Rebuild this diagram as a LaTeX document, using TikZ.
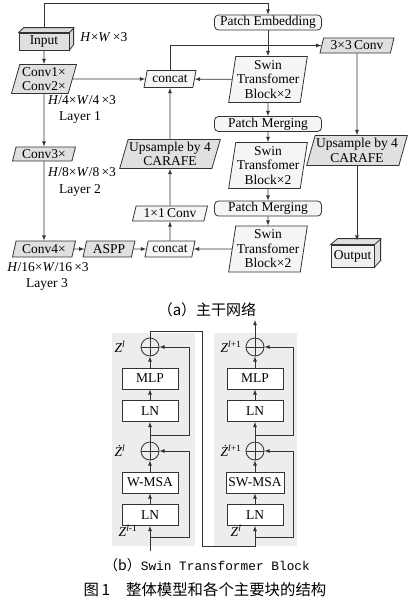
\documentclass[tikz,border=0pt]{standalone}
\usepackage{fontspec}
\setmainfont{Liberation Serif}
\newfontfamily\cjk{Noto Sans CJK SC}
\newfontfamily\mono{Liberation Mono}
\usetikzlibrary{arrows,positioning,shapes}
\tikzstyle{base}=[draw=black!80,line width=0.8pt,font=\fontsize{13.5}{14.5}\selectfont,
  align=center,inner sep=1pt]
\tikzstyle{para}=[base,trapezium,trapezium left angle=72,trapezium right angle=108,
  trapezium stretches body]

\begin{document}
\begin{tikzpicture}[x=1pt,y=-1pt,>=latex,line width=0.8pt,draw=black!80]
  \tikzstyle{conv}=[para,fill=black!12]
  \tikzstyle{lite}=[para,fill=black!4]
  \tikzstyle{swin}=[para,fill=black!4,trapezium left angle=80,trapezium right angle=100,
    minimum width=76,minimum height=46]
  \tikzstyle{patch}=[base,rounded corners=4pt,fill=black!4,minimum width=107,minimum height=15]
  \tikzstyle{cube}=[base,fill=black!12]
  \tikzstyle{blk}=[base,fill=white,minimum width=56,minimum height=21]
  \tikzstyle{add}=[circle,draw=black!80,line width=0.8pt,minimum size=18,inner sep=0pt,
    path picture={\draw (path picture bounding box.north) -- (path picture bounding box.south)
      (path picture bounding box.west) -- (path picture bounding box.east);}]
  \tikzstyle{lbl}=[font=\fontsize{13.5}{14.5}\selectfont,inner sep=0pt]

  \useasboundingbox (0,0) rectangle (409,600);

  % (a) backbone
  \node[cube,minimum width=50,minimum height=17] (inp) at (44,41.5) {Input};
  \draw[fill=black!15] (inp.north west) -- ++(5,-5) -- ++(50,0) -- ++(0,17)
    -- (inp.south east) -- (inp.north east) -- cycle;
  \draw (inp.north east) -- ++(5,-5);
  \coordinate (t0) at (44,28);
  \node[lbl,anchor=west] (hw) at (80,37) {\textit{H}×\textit{W}\,×3};

  \node[patch] (pe) at (268,22.5) {Patch Embedding};
  \node[swin] (sw1) at (268,79.5) {Swin\\Transfomer\\Block×2};
  \node[patch] (pm1) at (268,124) {Patch Merging};
  \node[swin] (sw2) at (268,165.5) {Swin\\Transfomer\\Block×2};
  \node[patch] (pm2) at (268,208.5) {Patch Merging};
  \node[swin] (sw3) at (268,249) {Swin\\Transfomer\\Block×2};

  \node[conv,minimum width=65,minimum height=29] (c12) at (44,79) {Conv1×\\Conv2×};
  \node[conv,minimum width=63,minimum height=14] (c3) at (44,154) {Conv3×};
  \node[conv,minimum width=63,minimum height=16] (c4) at (44,249) {Conv4×};
  \node[conv,minimum width=52,minimum height=16] (aspp) at (109,249) {ASPP};
  \node[lite,minimum width=50,minimum height=16] (cat2) at (170,249) {concat};
  \node[lite,minimum width=75,minimum height=15] (c11) at (170,213.5) {1×1\,Conv};
  \node[conv,minimum width=89,minimum height=29] (upl) at (170,154) {Upsample by 4\\CARAFE};
  \node[lite,minimum width=52,minimum height=17] (cat1) at (170,79) {concat};
  \node[conv,minimum width=74,minimum height=15] (c33) at (357,45.5) {3×3\,Conv};
  \node[conv,minimum width=89,minimum height=30] (upr) at (357,150.5) {Upsample by 4\\CARAFE};

  \node[cube,fill=black!6,minimum width=43,minimum height=22] (out) at (352.5,256) {Output};
  \draw[fill=black!12] (out.north west) -- ++(7,-6) -- ++(43,0) -- ++(0,22)
    -- (out.south east) -- (out.north east) -- cycle;
  \draw (out.north east) -- ++(7,-6);
  \coordinate (otop) at (357,240.5);

  \node[lbl] (l1a) at (82,100) {\textit{H}/4×\textit{W}/4\,×3};
  \node[lbl] (l1b) at (80,117) {Layer 1};
  \node[lbl] (l2a) at (82,172) {\textit{H}/8×\textit{W}/8\,×3};
  \node[lbl] (l2b) at (80,190) {Layer 2};
  \node[lbl] (l3a) at (48,267) {\textit{H}/16×\textit{W}/16\,×3};
  \node[lbl] (l3b) at (47,284) {Layer 3};

  \draw[->] (t0) -- ++(0,-25) -| (pe.north);
  \draw[->] (inp) -- (c12);
  \draw[->] (c12) -- (c3);
  \draw[->] (c3) -- (c4);
  \draw[->] (c4) -- (aspp);
  \draw[->] (aspp) -- (cat2);
  \draw[->] (sw3) -- (cat2);
  \draw[->] (cat2) -- (c11);
  \draw[->] (c11) -- (upl);
  \draw[->] (upl) -- (cat1);
  \draw[->] (c12) -- (cat1);
  \draw[->] (sw1) -- (cat1);
  \draw[->] (cat1.north) |- (c33);
  \draw[->] (pe) -- (sw1);
  \draw[->] (sw1) -- (pm1);
  \draw[->] (pm1) -- (sw2);
  \draw[->] (sw2) -- (pm2);
  \draw[->] (pm2) -- (sw3);
  \draw[->] (c33) -- (upr);
  \draw[->] (upr) -- (otop);

  \node[font=\cjk\fontsize{15}{16}\selectfont] (capa) at (207,310) {（a）主干网络};

  % (b) Swin Transformer Block
  \fill[black!7] (112,333) rectangle (195,546);
  \fill[black!7] (214,333) rectangle (297,546);

  \node[add] (a2) at (150,347) {};
  \node[blk] (mlp1) at (150,378.5) {MLP};
  \node[blk] (ln2) at (150,411) {LN};
  \node[add] (a1) at (150,451) {};
  \node[blk] (msa1) at (150,482.5) {W-MSA};
  \node[blk] (ln1) at (150,515) {LN};
  \coordinate (in1) at (150,551);
  \coordinate (r1) at (150,537);
  \coordinate (r2) at (150,435);
  \coordinate (j) at (202,546);

  \node[add] (a4) at (255,347) {};
  \node[blk] (mlp2) at (255,378.5) {MLP};
  \node[blk] (ln4) at (255,411) {LN};
  \node[add] (a3) at (255,451) {};
  \node[blk,minimum width=58] (msa2) at (255,482.5) {SW-MSA};
  \node[blk] (ln3) at (255,515) {LN};
  \coordinate (r3) at (255,537);
  \coordinate (r4) at (255,435);
  \coordinate (out2) at (255,320);

  \node[lbl] (z1) at (120,347) {\textit{Z}\textsuperscript{\textit{l}}};
  \node[lbl] (z2) at (120,451) {\textit{Ż}\textsuperscript{\textit{l}}};
  \node[lbl] (z3) at (128,531) {\textit{Z}\textsuperscript{\textit{l}-1}};
  \node[lbl] (z4) at (231,347) {\textit{Z}\textsuperscript{\textit{l}+1}};
  \node[lbl] (z5) at (231,451) {\textit{Ż}\textsuperscript{\textit{l}+1}};
  \node[lbl] (z6) at (236,531) {\textit{Z}\textsuperscript{\textit{l}}};

  \draw[->] (in1) -- (ln1);
  \draw[->] (ln1) -- (msa1);
  \draw[->] (msa1) -- (a1);
  \draw[->] (a1) -- (ln2);
  \draw[->] (ln2) -- (mlp1);
  \draw[->] (mlp1) -- (a2);
  \draw[->] (r1) -- ++(39,0) |- (a1.east);
  \draw[->] (r2) -- ++(39,0) |- (a2.east);
  \draw[->] (a2.north) -- ++(0,-6) -| (j) -| (ln3.south);

  \draw[->] (ln3) -- (msa2);
  \draw[->] (msa2) -- (a3);
  \draw[->] (a3) -- (ln4);
  \draw[->] (ln4) -- (mlp2);
  \draw[->] (mlp2) -- (a4);
  \draw[->] (r3) -- ++(38,0) |- (a3.east);
  \draw[->] (r4) -- ++(38,0) |- (a4.east);
  \draw[->] (a4) -- (out2);

  \node (capb) at (207,565) {\cjk\fontsize{14}{15}\selectfont （b）\mono\fontsize{12.8}{14}\selectfont Swin Transformer Block};
  \node (cap) at (205,590) {\cjk\fontsize{15.4}{16}\selectfont 图\,1\hspace{16pt}整体模型和各个主要块的结构};
\end{tikzpicture}
\end{document}
